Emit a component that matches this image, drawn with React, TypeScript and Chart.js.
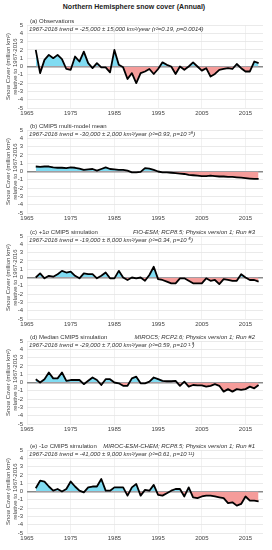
import React, { useEffect, useRef } from 'react';
import { Chart, registerables } from 'chart.js';

Chart.register(...registerables);

const FONT = '"Liberation Sans", Arial, Helvetica, sans-serif';

const years = [
  1967, 1968, 1969, 1970, 1971, 1972, 1973, 1974, 1975, 1976,
  1977, 1978, 1979, 1980, 1981, 1982, 1983, 1984, 1985, 1986,
  1987, 1988, 1989, 1990, 1991, 1992, 1993, 1994, 1995, 1996,
  1997, 1998, 1999, 2000, 2001, 2002, 2003, 2004, 2005, 2006,
  2007, 2008, 2009, 2010, 2011, 2012, 2013, 2014, 2015, 2016,
  2017, 2018,
];
const xTickYears = [1965, 1975, 1985, 1995, 2005, 2015];
const yTickValues = [-5, -4, -3, -2, -1, 0, 1, 2, 3, 4, 5];

const obsValues = [
  2.0, -0.8, 0.8, 1.4, 1.0, 1.4, 0.9, -0.3, -0.4, 1.2,
  0.6, 1.8, 0.4, -0.2, 0.4, -0.1, -0.1, -0.7, 2.0, 0.2,
  -0.1, -1.5, -0.8, -2.0, -0.8, -0.6, -0.3, -0.9, -0.3, 0.5,
  0.2, 0.0, -0.9, 0.0, -0.4, 0.0, 0.5, 0.0, -0.5, -0.2,
  -1.2, -0.9, -0.4, -0.3, -0.2, -0.3, 0.3, -0.2, -0.6, -0.6,
  0.6, 0.4,
];
const multiModelMeanValues = [
  0.6, 0.55, 0.6, 0.6, 0.5, 0.45, 0.45, 0.4, 0.5, 0.45,
  0.35, 0.2, 0.25, 0.3, 0.1, 0.3, 0.5, 0.3, 0.25, 0.2,
  0.2, 0.1, -0.1, -0.1, -0.05, 0.4, 0.35, 0.2, 0.0, -0.1,
  -0.1, -0.15, -0.2, -0.25, -0.3, -0.4, -0.45, -0.5, -0.55, -0.55,
  -0.5, -0.55, -0.6, -0.6, -0.65, -0.65, -0.7, -0.75, -0.8, -0.85,
  -0.9, -0.9,
];
const plusSigmaValues = [
  0.0, 0.5, -0.1, 0.2, 0.1, 0.4, 0.8, 0.6, 0.7, 0.2,
  -0.1, 0.5, 0.4, 0.4, -0.1, 0.2, 0.6, -0.1, -0.1, 0.8,
  0.0, -0.3, 0.0, -0.1, 0.0, -0.4, 0.3, 1.3, -0.2, -0.3,
  -0.5, -0.7, -0.7, -0.1, -0.1, -0.4, -0.7, -0.7, -0.7, -0.1,
  -0.4, -0.3, -0.8, -0.2, -0.3, -0.4, -0.4, 0.4, 0.0, -0.3,
  -0.3, -0.5,
];
const medianValues = [
  0.4, 0.0, 0.4, 1.2, 0.5, 0.5, 1.2, 0.2, 0.3, 0.3,
  0.3, -0.2, 0.2, 0.6, 0.3, -0.3, 0.4, 0.4, 0.0, -0.1,
  -0.4, -0.4, 0.5, 0.7, -0.1, -0.1, 0.1, 0.6, 0.4, 0.2,
  0.15, 0.15, 0.2, -0.4, 0.1, -0.5, -0.3, -0.35, -0.35, -0.5,
  -0.4, -0.2, -0.4, -1.1, -0.8, -1.1, -0.8, -0.9, -0.8, -0.5,
  -0.7, -0.3,
];
const minusSigmaValues = [
  0.4, 1.3, 1.2, 0.6, 0.1, 0.3, 0.0, 0.3, 1.2, 0.6,
  0.1, -0.1, 0.5, 0.6, 0.6, 1.5, 0.1, 0.1, 0.5, 0.5,
  0.5, -0.5, 0.5, 0.9, -0.5, 0.2, 0.1, 0.8, -0.4, -0.5,
  -0.2, 0.1, 0.3, 0.3, -0.6, 0.5, -0.7, -0.8, -0.6, -0.5,
  -0.5, -0.6, -0.7, -0.8, -1.4, -1.3, -1.7, -1.5, -0.6, -1.1,
  -1.1, -1.2,
];

const seriesList = [obsValues, multiModelMeanValues, plusSigmaValues, medianValues, minusSigmaValues];

const panelLabels = [
  '(a) Observations',
  '(b) CMIP5 multi-model mean',
  '(c) +1σ CMIP5 simulation',
  '(d) Median CMIP5 simulation',
  '(e) -1σ CMIP5 simulation',
];
const panelModels = [
  '',
  '',
  'FIO-ESM; RCP8.5; Physics version 1; Run #3',
  'MIROC5; RCP2.6; Physics version 1; Run #2',
  'MIROC-ESM-CHEM; RCP8.5; Physics version 1; Run #1',
];
const panelTrends = [
  '1967-2016 trend = -25,000 ± 15,000 km²/year (r²=0.19, p=0.0014)',
  '1967-2016 trend = -30,000 ± 2,000 km²/year (r²=0.93, p=10⁻²⁹)',
  '1967-2016 trend = -19,000 ± 8,000 km²/year (r²=0.34, p=10⁻⁵)',
  '1967-2016 trend = -29,000 ± 7,000 km²/year (r²=0.59, p=10⁻¹⁰)',
  '1967-2016 trend = -41,000 ± 9,000 km²/year (r²=0.61, p=10⁻¹¹)',
];
const yAxisTitle = ['Snow Cover (million km²)', 'relative to 1967-2016'];
const mainTitle = 'Northern Hemisphere snow cover (Annual)';

// layout
const PLOT_TOPS = [25, 130, 236, 341, 450];
const PLOT_H = 83;
const PAD_TOP = 14;
const X_AXIS_H = 16;
const Y_AXIS_W = 27;
const RIGHT_PAD = 9;
const CANVAS_W = 272;
const CANVAS_H = PAD_TOP + PLOT_H + X_AXIS_H;

const panelTextPlugin = {
  id: 'panelText',
  afterDraw(chart: any, _args: any, opts: any) {
    const { ctx, chartArea } = chart;
    ctx.save();
    ctx.fillStyle = '#333';
    ctx.textBaseline = 'middle';
    ctx.font = `6px ${FONT}`;
    ctx.textAlign = 'left';
    ctx.fillText(opts.label, chartArea.left + 3, chartArea.top - 4);
    if (opts.model) {
      ctx.font = `italic 6px ${FONT}`;
      ctx.textAlign = 'right';
      ctx.fillText(opts.model, chartArea.right - 8, chartArea.top - 4);
    }
    ctx.font = `italic 6px ${FONT}`;
    ctx.textAlign = 'left';
    ctx.fillText(opts.trend, chartArea.left + 2, chartArea.top + 4.5);
    ctx.restore();
  },
};

function Panel({ index }: { index: number }) {
  const ref = useRef<HTMLCanvasElement | null>(null);
  useEffect(() => {
    if (!ref.current) return;
    const values = seriesList[index];
    const chart = new Chart(ref.current, {
      type: 'line',
      data: {
        datasets: [
          {
            data: years.map((yr, i) => ({ x: yr, y: values[i] })),
            borderColor: '#000',
            borderWidth: 1.8,
            borderJoinStyle: 'round',
            pointRadius: 0,
            tension: 0,
            fill: { target: { value: 0 }, above: '#80dcf2', below: '#f59c9a' },
          },
        ],
      },
      options: {
        responsive: false,
        animation: false,
        devicePixelRatio: 1,
        layout: { padding: { top: PAD_TOP, right: RIGHT_PAD, left: 0, bottom: 0 } },
        plugins: {
          legend: { display: false },
          tooltip: { enabled: false },
          panelText: { label: panelLabels[index], model: panelModels[index], trend: panelTrends[index] },
        } as any,
        scales: {
          x: {
            type: 'linear',
            min: 1965,
            max: 2019,
            afterBuildTicks: (s: any) => {
              s.ticks = xTickYears.map((v) => ({ value: v }));
            },
            afterFit: (s: any) => {
              s.height = X_AXIS_H;
            },
            ticks: {
              callback: (v: any) => String(v),
              font: { size: 6, family: FONT },
              color: '#444',
              padding: 2,
              maxRotation: 0,
              autoSkip: false,
            },
            grid: { color: '#ededed', lineWidth: 0.8, drawTicks: false },
            border: { display: false },
          },
          y: {
            min: -5,
            max: 5,
            afterBuildTicks: (s: any) => {
              s.ticks = yTickValues.map((v) => ({ value: v }));
            },
            afterFit: (s: any) => {
              s.width = Y_AXIS_W;
            },
            ticks: {
              callback: (v: any) => String(v),
              font: { size: 6, family: FONT, lineHeight: 1 },
              color: '#444',
              padding: 4,
              autoSkip: false,
            },
            grid: {
              drawTicks: false,
              color: (c: any) => (c.tick && c.tick.value === 0 ? '#8a8a8a' : '#e4e4e4'),
              lineWidth: (c: any) => (c.tick && c.tick.value === 0 ? 1.5 : 0.8),
            },
            border: { display: false },
            title: {
              display: true,
              text: yAxisTitle,
              font: { size: 6, family: FONT, lineHeight: 1.1 },
              color: '#444',
              padding: { top: 5, bottom: 0 },
            },
          },
        },
      },
      plugins: [panelTextPlugin],
    } as any);
    return () => chart.destroy();
  }, [index]);
  return (
    <canvas
      ref={ref}
      width={CANVAS_W}
      height={CANVAS_H}
      style={{
        position: 'absolute',
        left: 0,
        top: PLOT_TOPS[index] - PAD_TOP,
        width: CANVAS_W,
        height: CANVAS_H,
      }}
    />
  );
}

export default function App() {
  return (
    <div
      style={{
        position: 'absolute',
        left: 0,
        top: 0,
        width: 272,
        height: 550,
        background: '#fff',
        overflow: 'hidden',
        fontFamily: FONT,
      }}
    >
      <div
        style={{
          position: 'absolute',
          left: 0,
          top: 2,
          width: 268,
          textAlign: 'center',
          fontSize: 7,
          fontWeight: 'bold',
          color: '#222',
          lineHeight: '10px',
        }}
      >
        {mainTitle}
      </div>
      {[0, 1, 2, 3, 4].map((i) => (
        <Panel key={i} index={i} />
      ))}
    </div>
  );
}
